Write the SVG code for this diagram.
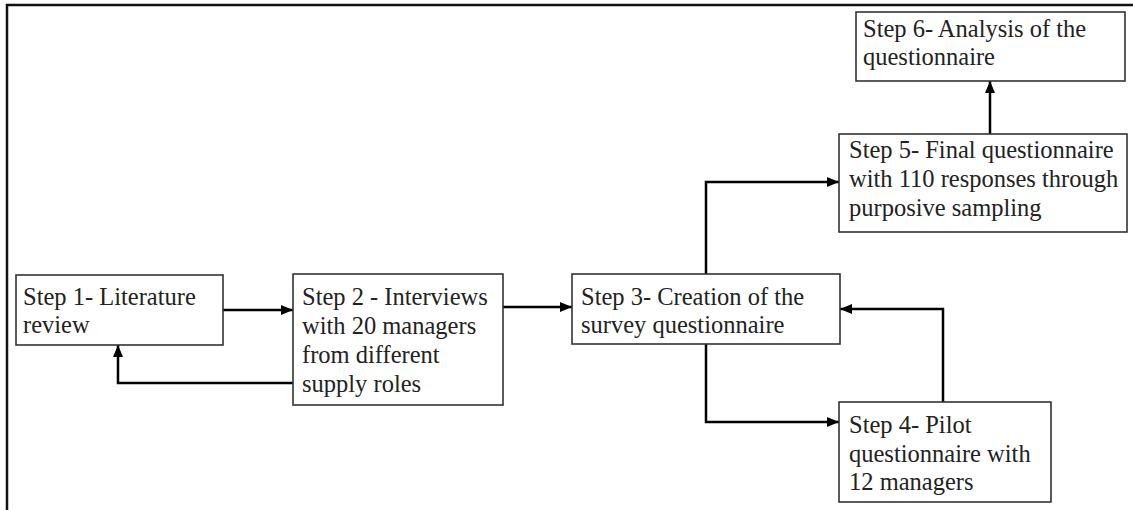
<svg xmlns="http://www.w3.org/2000/svg" width="1133" height="510" viewBox="0 0 1133 510">
<defs>
<style>
.box{fill:#fff;stroke:#333;stroke-width:1.6}
.t{font-family:"Liberation Serif","Times New Roman",serif;font-size:24.5px;fill:#222}
.c{fill:none;stroke:#000;stroke-width:2.5}
.frame{fill:none;stroke:#111;stroke-width:2.5}
</style>
<marker id="ah" markerUnits="userSpaceOnUse" viewBox="0 0 12 10" markerWidth="12" markerHeight="10" refX="12" refY="5" orient="auto">
<path d="M0,0 L12,5 L0,10 z" fill="#000"/>
</marker>
</defs>
<rect width="1133" height="510" fill="#fff"/>
<path class="frame" d="M7,510 V5 H1133"/>
<g id="connectors">
<path class="c" d="M223,310 H293" marker-end="url(#ah)"/>
<path class="c" d="M293,383 H118 V345" marker-end="url(#ah)"/>
<path class="c" d="M503,307 H572" marker-end="url(#ah)"/>
<path class="c" d="M706,274 V182 H839" marker-end="url(#ah)"/>
<path class="c" d="M706,344 V422 H839" marker-end="url(#ah)"/>
<path class="c" d="M943,402 V309 H840" marker-end="url(#ah)"/>
<path class="c" d="M990,134 V81" marker-end="url(#ah)"/>
</g>
<g id="step1">
<rect class="box" x="16" y="275" width="207" height="70"/>
<text class="t" x="23" y="305">Step 1- Literature</text>
<text class="t" x="23" y="333">review</text>
</g>
<g id="step2">
<rect class="box" x="293" y="274" width="210" height="131"/>
<text class="t" x="302" y="305">Step 2 - Interviews</text>
<text class="t" x="302" y="334">with 20 managers</text>
<text class="t" x="302" y="363">from different</text>
<text class="t" x="302" y="392">supply roles</text>
</g>
<g id="step3">
<rect class="box" x="572" y="274" width="268" height="70"/>
<text class="t" x="581" y="305">Step 3- Creation of the</text>
<text class="t" x="581" y="333">survey questionnaire</text>
</g>
<g id="step4">
<rect class="box" x="839" y="402" width="212" height="100"/>
<text class="t" x="849" y="433">Step 4- Pilot</text>
<text class="t" x="849" y="462">questionnaire with</text>
<text class="t" x="849" y="490">12 managers</text>
</g>
<g id="step5">
<rect class="box" x="839" y="134" width="288" height="98"/>
<text class="t" x="849" y="158">Step 5- Final questionnaire</text>
<text class="t" x="849" y="187">with 110 responses through</text>
<text class="t" x="849" y="216">purposive sampling</text>
</g>
<g id="step6">
<rect class="box" x="856" y="12" width="269" height="69"/>
<text class="t" x="863" y="37">Step 6- Analysis of the</text>
<text class="t" x="863" y="65">questionnaire</text>
</g>
</svg>
